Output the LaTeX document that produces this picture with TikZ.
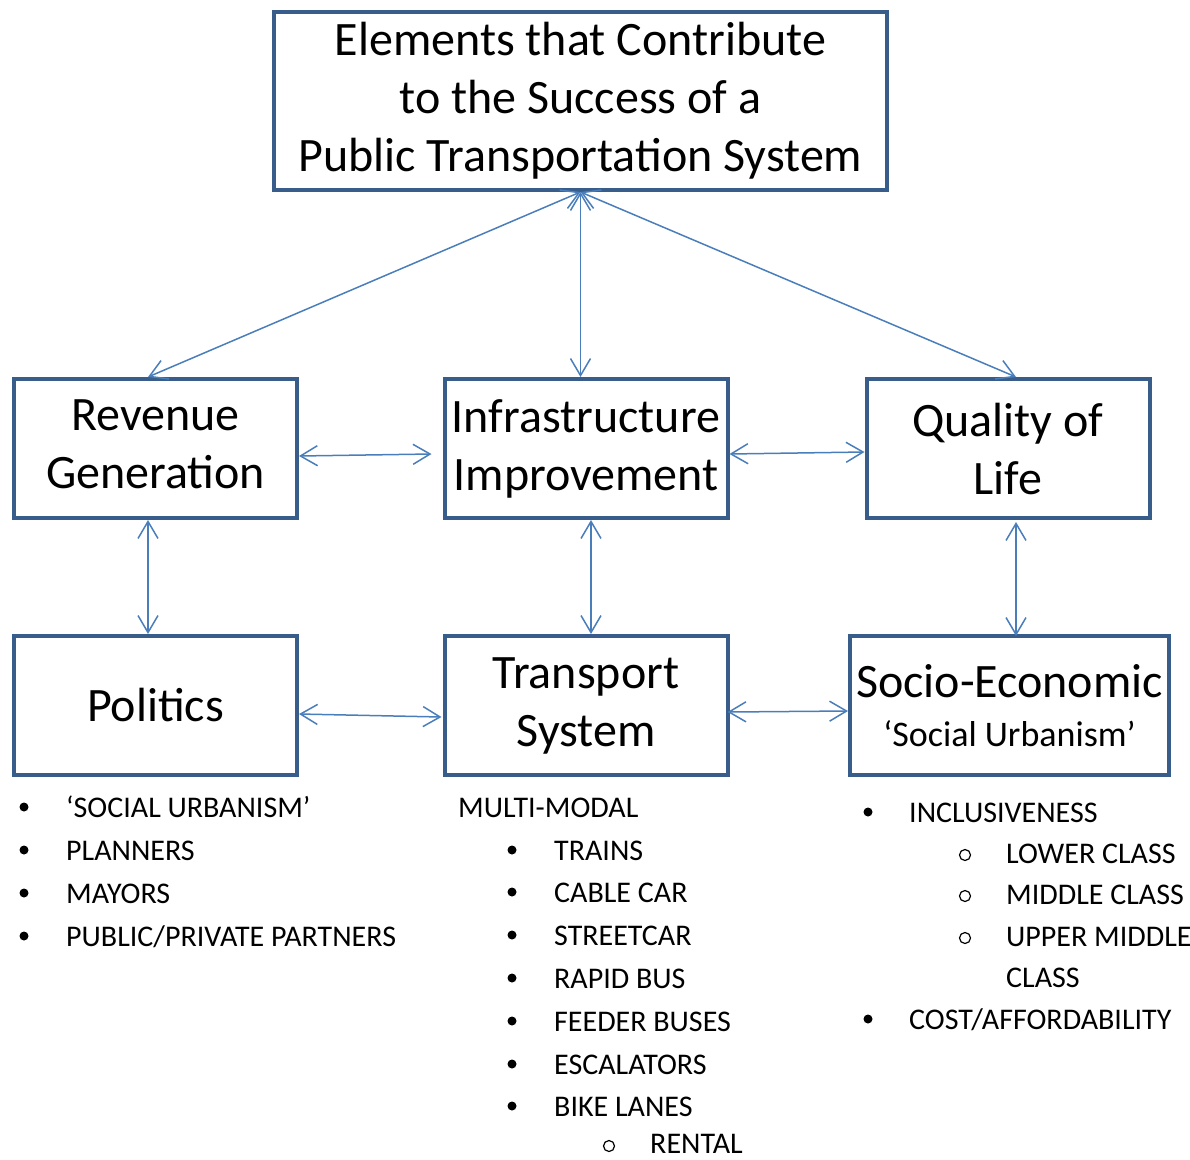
\documentclass[tikz,border=0pt]{standalone}
\usepackage{fontspec}
\setmainfont{Carlito}
\usetikzlibrary{arrows.meta}
\definecolor{boxline}{RGB}{56,93,138}
\definecolor{linkline}{RGB}{74,126,187}

\begin{document}
\begin{tikzpicture}[x=1pt, y=-1pt,
    every node/.style={inner sep=0pt},
    box/.style={draw=boxline, line width=4pt, align=center, minimum width=283pt, minimum height=139pt, font=\fontsize{48}{58}\selectfont},
    link/.style={draw=linkline, line width=1.5pt, {Straight Barb[length=17pt,width=20pt]}-{Straight Barb[length=17pt,width=20pt]}},
    listitem/.style={anchor=base west, font=\fontsize{30}{43}\selectfont},
    bul/.style={circle, fill=black, minimum size=9pt},
    ringbul/.style={circle, draw=black, line width=1.2pt, minimum size=11pt}
  ]
  \useasboundingbox (0,0) rectangle (1190,1159);

  % main boxes
  \node[box, minimum width=613pt, minimum height=178pt] (goal) at (580.5,101) {Elements that Contribute\\to the Success of a\\Public Transportation System\rule[-4pt]{0pt}{4pt}};
  \node[box] (revenue) at (155.5,448.5) {Revenue\\Generation\rule[-8pt]{0pt}{8pt}};
  \node[box] (infra) at (586,448.5) {Infrastructure\\Improvement};
  \node[box] (quality) at (1008,448.5) {Quality of\\Life};
  \node[box] (politics) at (155.5,705.5) {Politics};
  \node[box] (transport) at (586,705.5) {Transport\\System};
  \node[box, minimum width=319pt] (socio) at (1009.5,705.5) {Socio-Economic\\[-9pt]\fontsize{36}{44}\selectfont ‘Social Urbanism’};

  % --- arrows ---
  \draw[link] (goal.south) -- ([xshift=-7.5pt]revenue.north);
  \draw[link] (goal.south) -- (goal.south |- infra.north);
  \draw[link] (goal.south) -- ([xshift=8pt]quality.north);

  \draw[link] ([yshift=-7.5pt]revenue.east) -- ([xshift=-11pt,yshift=-5.5pt]infra.west);
  \draw[link] ([yshift=-5.5pt]infra.east) -- ([yshift=-3.5pt]quality.west);

  \draw[link] ([xshift=-7.5pt]revenue.south) -- ([xshift=-7.5pt]politics.north);
  \draw[link] ([xshift=5pt]infra.south) -- ([xshift=5pt]transport.north);
  \draw[link] ([xshift=8pt,yshift=-2pt]quality.south) -- ([xshift=6.5pt,yshift=-2pt]socio.north);

  \draw[link] ([yshift=-8.5pt]politics.east) -- ([xshift=-1pt,yshift=-11.5pt]transport.west);
  \draw[link] ([xshift=-2pt,yshift=-6.5pt]transport.east) -- ([yshift=-5.5pt]socio.west);

  % politics list
  \foreach \y/\t [count=\i] in {807/{‘SOCIAL URBANISM’}, 850/PLANNERS, 893/MAYORS, 936/{PUBLIC/PRIVATE PARTNERS}} {
    \node[bul] (pbul\i) at (24,\y) {};
    \node[listitem] (pitem\i) at (66,\y+10) {\t};
  }

  % transport list
  \node[listitem] (modes) at (458,817) {MULTI-MODAL};
  \foreach \y/\t [count=\i] in {850/TRAINS, 892/CABLE CAR, 935/STREETCAR, 978/RAPID BUS, 1021/FEEDER BUSES, 1064/ESCALATORS, 1106/BIKE LANES} {
    \node[bul] (tbul\i) at (512,\y) {};
    \node[listitem] (titem\i) at (554,\y+10) {\t};
  }
  \node[ringbul] (rentbul) at (609,1146) {};
  \node[listitem] (rent) at (650,1153) {RENTAL};

  % socio-economic list
  \node[bul] (sbul1) at (868,812) {};
  \node[listitem] (sitem1) at (909,822) {INCLUSIVENESS};
  \foreach \y/\t [count=\i] in {853/LOWER CLASS, 894/MIDDLE CLASS, 936/UPPER MIDDLE} {
    \node[ringbul] (cbul\i) at (965,\y+2) {};
    \node[listitem] (citem\i) at (1006,\y+10) {\t};
  }
  \node[listitem] (citem4) at (1006,987) {CLASS};
  \node[bul] (sbul2) at (868,1019) {};
  \node[listitem] (sitem2) at (909,1029) {COST/AFFORDABILITY};

\end{tikzpicture}
\end{document}
